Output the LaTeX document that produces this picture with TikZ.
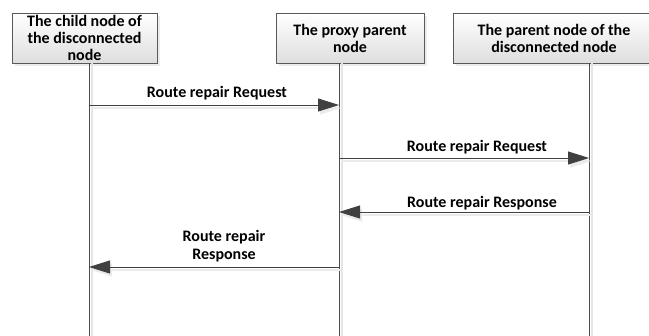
\documentclass[tikz,border=0pt]{standalone}
\usepackage{fontspec}
\setmainfont{Carlito}
\usetikzlibrary{arrows.meta,shadows,positioning}

\tikzset{
  actor/.style={draw=black!65,top color=white,bottom color=black!13,anchor=north,align=center,
    font=\fontsize{16}{17}\selectfont\bfseries,inner sep=1pt,minimum height=50pt,
    drop shadow={opacity=0.15,shadow xshift=3pt,shadow yshift=-3pt}},
  life/.style={draw=black!70,line width=0.9pt,preaction={draw=black!10,line width=1.2pt,transform canvas={xshift=3pt}}},
  msg/.style={draw=black!75,line width=0.9pt,-{Triangle[length=21pt,width=13pt]},
    preaction={draw=black!8,line width=1.5pt,transform canvas={shift={(2pt,-3pt)}}}},
  lbl/.style={font=\fontsize{16}{18}\selectfont\bfseries,align=center,inner sep=1pt}
}

\begin{document}
\begin{tikzpicture}[x=1pt,y=-1pt]
  \useasboundingbox (0,0) rectangle (649,336);

  \node[actor,minimum width=145pt] (child)  at (84.5,13) {The child node of\\the disconnected\\node};
  \node[actor,minimum width=148pt] (proxy)  at (350,13) {The proxy parent\\node};
  \node[actor,minimum width=202pt] (parent) at (554,13) {The parent node of the\\disconnected node};

  % lifelines
  \coordinate (childend)  at (89,336);
  \coordinate (proxyend)  at (339,336);
  \coordinate (parentend) at (589,336);
  \draw[life] (child.south -| childend) -- (childend);
  \draw[life] (proxy.south -| proxyend) -- (proxyend);
  \draw[life] (parent.south -| parentend) -- (parentend);

  % messages
  \coordinate (c1) at (89,105);  \coordinate (p1) at (339,105);
  \coordinate (p2) at (339,158); \coordinate (r2) at (589,158);
  \coordinate (r3) at (589,212); \coordinate (p3) at (339,212);
  \coordinate (p4) at (339,267); \coordinate (c4) at (89,267);

  \draw[msg] (c1) -- node[lbl,above=4pt,xshift=3pt] {Route repair Request} (p1);
  \draw[msg] (p2) -- node[lbl,above=3pt,xshift=13pt] {Route repair Request} (r2);
  \draw[msg] (r3) -- node[lbl,above=1pt,xshift=18pt] {Route repair Response} (p3);
  \draw[msg] (p4) -- node[lbl,above=4pt,xshift=10pt] {Route repair\\Response} (c4);
\end{tikzpicture}
\end{document}
